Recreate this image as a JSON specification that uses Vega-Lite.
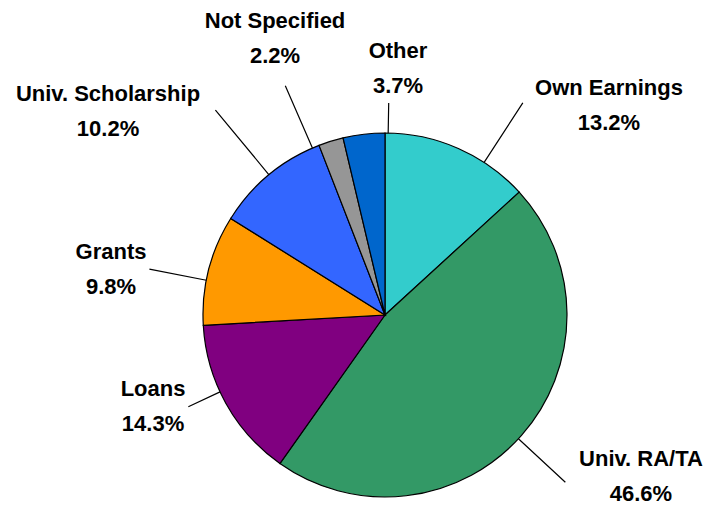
{
  "$schema": "https://vega.github.io/schema/vega-lite/v6.json",
  "width": 656,
  "height": 386,
  "autosize": {"type": "none"},
  "padding": {"left": 57, "top": 122, "right": 0, "bottom": 0},
  "background": "white",
  "config": {
    "view": {"stroke": null},
    "text": {"font": "Liberation Sans", "fontWeight": "bold", "fontSize": 22, "color": "black"}
  },
  "data": {
    "values": [
      {"source": "Own Earnings", "share": 0.132},
      {"source": "Univ. RA/TA", "share": 0.466},
      {"source": "Loans", "share": 0.143},
      {"source": "Grants", "share": 0.098},
      {"source": "Univ. Scholarship", "share": 0.102},
      {"source": "Not Specified", "share": 0.022},
      {"source": "Other", "share": 0.037}
    ]
  },
  "transform": [
    {"window": [{"op": "row_number", "as": "idx"}]},
    {"stack": "share", "groupby": [], "sort": [{"field": "idx", "order": "ascending"}], "as": ["s0", "s1"]},
    {"fold": ["s0", "s1"], "as": ["edge", "pos"]},
    {"joinaggregate": [{"op": "mean", "field": "pos", "as": "mid"}], "groupby": ["source"]},
    {"filter": {"field": "edge", "equal": "s0"}}
  ],
  "layer": [
    {
      "mark": {"type": "arc", "outerRadius": 182, "stroke": "black", "strokeWidth": 1.2},
      "encoding": {
        "theta": {"field": "s0", "type": "quantitative", "scale": {"domain": [0, 1]}},
        "theta2": {"field": "s1"},
        "color": {
          "field": "source",
          "type": "nominal",
          "scale": {
            "domain": ["Own Earnings", "Univ. RA/TA", "Loans", "Grants", "Univ. Scholarship", "Not Specified", "Other"],
            "range": ["#33CCCC", "#339966", "#800080", "#FF9900", "#3366FF", "#969696", "#0066CC"]
          },
          "legend": null
        }
      }
    },
    {
      "transform": [{"filter": {"field": "source", "equal": "Own Earnings"}}],
      "layer": [
        {"mark": {"type": "arc", "innerRadius": 182, "outerRadius": 253, "thetaOffset": 0.1613, "theta2Offset": 0.1613, "stroke": "black", "strokeWidth": 1.2, "fill": "transparent"},
         "encoding": {"theta": {"field": "mid", "type": "quantitative", "scale": {"domain": [0, 1]}}, "theta2": {"field": "mid"}}},
        {"mark": {"type": "text", "radius": 307, "thetaOffset": 0.403, "dy": -17.5},
         "encoding": {"theta": {"field": "mid", "type": "quantitative", "stack": null, "scale": {"domain": [0, 1]}}, "text": {"field": "source"}}},
        {"mark": {"type": "text", "radius": 307, "thetaOffset": 0.403, "dy": 17.5},
         "encoding": {"theta": {"field": "mid", "type": "quantitative", "stack": null, "scale": {"domain": [0, 1]}}, "text": {"field": "share", "format": ".1%"}}}
      ]
    },
    {
      "transform": [{"filter": {"field": "source", "equal": "Univ. RA/TA"}}],
      "layer": [
        {"mark": {"type": "arc", "innerRadius": 182, "outerRadius": 246, "thetaOffset": 0.0253, "theta2Offset": 0.0253, "stroke": "black", "strokeWidth": 1.2, "fill": "transparent"},
         "encoding": {"theta": {"field": "mid", "type": "quantitative", "scale": {"domain": [0, 1]}}, "theta2": {"field": "mid"}}},
        {"mark": {"type": "text", "radius": 302.4, "thetaOffset": -0.1611, "dy": -17.5},
         "encoding": {"theta": {"field": "mid", "type": "quantitative", "stack": null, "scale": {"domain": [0, 1]}}, "text": {"field": "source"}}},
        {"mark": {"type": "text", "radius": 302.4, "thetaOffset": -0.1611, "dy": 17.5},
         "encoding": {"theta": {"field": "mid", "type": "quantitative", "stack": null, "scale": {"domain": [0, 1]}}, "text": {"field": "share", "format": ".1%"}}}
      ]
    },
    {
      "transform": [{"filter": {"field": "source", "equal": "Loans"}}],
      "layer": [
        {"mark": {"type": "arc", "innerRadius": 182, "outerRadius": 217, "thetaOffset": 0.0695, "theta2Offset": 0.0695, "stroke": "black", "strokeWidth": 1.2, "fill": "transparent"},
         "encoding": {"theta": {"field": "mid", "type": "quantitative", "scale": {"domain": [0, 1]}}, "theta2": {"field": "mid"}}},
        {"mark": {"type": "text", "radius": 249.2, "thetaOffset": 0.1319, "dy": -17.5},
         "encoding": {"theta": {"field": "mid", "type": "quantitative", "stack": null, "scale": {"domain": [0, 1]}}, "text": {"field": "source"}}},
        {"mark": {"type": "text", "radius": 249.2, "thetaOffset": 0.1319, "dy": 17.5},
         "encoding": {"theta": {"field": "mid", "type": "quantitative", "stack": null, "scale": {"domain": [0, 1]}}, "text": {"field": "share", "format": ".1%"}}}
      ]
    },
    {
      "transform": [{"filter": {"field": "source", "equal": "Grants"}}],
      "layer": [
        {"mark": {"type": "arc", "innerRadius": 182, "outerRadius": 240, "thetaOffset": -0.0593, "theta2Offset": -0.0593, "stroke": "black", "strokeWidth": 1.2, "fill": "transparent"},
         "encoding": {"theta": {"field": "mid", "type": "quantitative", "scale": {"domain": [0, 1]}}, "theta2": {"field": "mid"}}},
        {"mark": {"type": "text", "radius": 277.8, "thetaOffset": -0.085, "dy": -17.5},
         "encoding": {"theta": {"field": "mid", "type": "quantitative", "stack": null, "scale": {"domain": [0, 1]}}, "text": {"field": "source"}}},
        {"mark": {"type": "text", "radius": 277.8, "thetaOffset": -0.085, "dy": 17.5},
         "encoding": {"theta": {"field": "mid", "type": "quantitative", "stack": null, "scale": {"domain": [0, 1]}}, "text": {"field": "share", "format": ".1%"}}}
      ]
    },
    {
      "transform": [{"filter": {"field": "source", "equal": "Univ. Scholarship"}}],
      "layer": [
        {"mark": {"type": "arc", "innerRadius": 182, "outerRadius": 266, "thetaOffset": 0, "theta2Offset": 0, "stroke": "black", "strokeWidth": 1.2, "fill": "transparent"},
         "encoding": {"theta": {"field": "mid", "type": "quantitative", "scale": {"domain": [0, 1]}}, "theta2": {"field": "mid"}}},
        {"mark": {"type": "text", "radius": 344, "thetaOffset": -0.2449, "dy": -17.5},
         "encoding": {"theta": {"field": "mid", "type": "quantitative", "stack": null, "scale": {"domain": [0, 1]}}, "text": {"field": "source"}}},
        {"mark": {"type": "text", "radius": 344, "thetaOffset": -0.2449, "dy": 17.5},
         "encoding": {"theta": {"field": "mid", "type": "quantitative", "stack": null, "scale": {"domain": [0, 1]}}, "text": {"field": "share", "format": ".1%"}}}
      ]
    },
    {
      "transform": [{"filter": {"field": "source", "equal": "Not Specified"}}],
      "layer": [
        {"mark": {"type": "arc", "innerRadius": 182, "outerRadius": 250, "thetaOffset": -0.1086, "theta2Offset": -0.1086, "stroke": "black", "strokeWidth": 1.2, "fill": "transparent"},
         "encoding": {"theta": {"field": "mid", "type": "quantitative", "scale": {"domain": [0, 1]}}, "theta2": {"field": "mid"}}},
        {"mark": {"type": "text", "radius": 298, "thetaOffset": -0.0764, "dy": -17.5},
         "encoding": {"theta": {"field": "mid", "type": "quantitative", "stack": null, "scale": {"domain": [0, 1]}}, "text": {"field": "source"}}},
        {"mark": {"type": "text", "radius": 298, "thetaOffset": -0.0764, "dy": 17.5},
         "encoding": {"theta": {"field": "mid", "type": "quantitative", "stack": null, "scale": {"domain": [0, 1]}}, "text": {"field": "share", "format": ".1%"}}}
      ]
    },
    {
      "transform": [{"filter": {"field": "source", "equal": "Other"}}],
      "layer": [
        {"mark": {"type": "arc", "innerRadius": 182, "outerRadius": 212, "thetaOffset": 0.1337, "theta2Offset": 0.1337, "stroke": "black", "strokeWidth": 1.2, "fill": "transparent"},
         "encoding": {"theta": {"field": "mid", "type": "quantitative", "scale": {"domain": [0, 1]}}, "theta2": {"field": "mid"}}},
        {"mark": {"type": "text", "radius": 247.3, "thetaOffset": 0.1688, "dy": -17.5},
         "encoding": {"theta": {"field": "mid", "type": "quantitative", "stack": null, "scale": {"domain": [0, 1]}}, "text": {"field": "source"}}},
        {"mark": {"type": "text", "radius": 247.3, "thetaOffset": 0.1688, "dy": 17.5},
         "encoding": {"theta": {"field": "mid", "type": "quantitative", "stack": null, "scale": {"domain": [0, 1]}}, "text": {"field": "share", "format": ".1%"}}}
      ]
    }
  ]
}
